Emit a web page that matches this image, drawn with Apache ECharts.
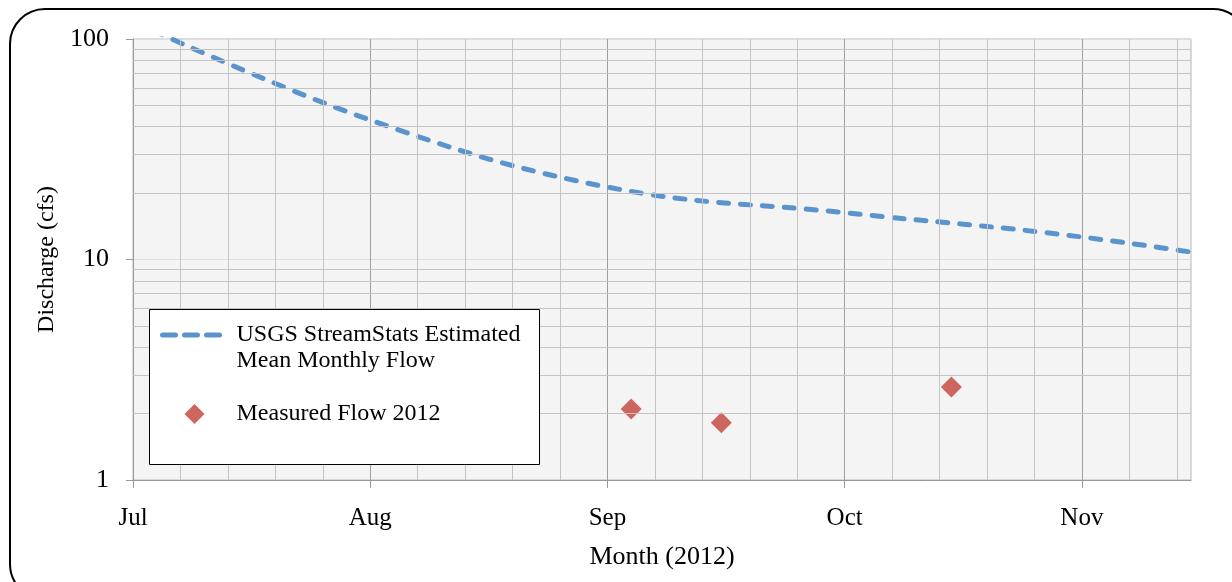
<!DOCTYPE html>
<html>
<head>
<meta charset="utf-8">
<script src="https://cdn.jsdelivr.net/npm/echarts@6/dist/echarts.min.js"></script>
<style>
  html, body { margin: 0; padding: 0; background: #fff; }
  #chart { width: 1232px; height: 582px; }
</style>
</head>
<body>
<div id="chart"></div>
<script>
// month labels, x is counted in months from 1 Jul 2012
const months = ["Jul", "Aug", "Sep", "Oct", "Nov"];
const monthTicks = [0, 1, 2, 3, 4];

// USGS StreamStats estimated mean monthly flow (cfs), Jul .. Dec
const meanFlowMonth = [0, 1, 2, 3, 4, 5];
const meanFlowCfs = [120, 42.9, 21.3, 16.3, 12.65, 8.8];

// measured flow 2012 (cfs)
const measuredMonth = [2.1, 2.48, 3.45];
const measuredCfs = [2.1, 1.82, 2.64];

// minor gridlines
const minorXTicks = [0.2, 0.4, 0.6, 0.8, 1.2, 1.4, 1.6, 1.8, 2.2, 2.4, 2.6, 2.8,
  3.2, 3.4, 3.6, 3.8, 4.2, 4.4];
const minorYTicks = [2, 3, 4, 5, 6, 7, 8, 9, 20, 30, 40, 50, 60, 70, 80, 90];

const FONT = "Liberation Serif";
const MEAN_NAME = "USGS StreamStats Estimated\nMean Monthly Flow";
const MEASURED_NAME = "Measured Flow 2012";

const chart = echarts.init(document.getElementById("chart"));

const meanData = meanFlowMonth.map((m, i) => [m, meanFlowCfs[i]]);
const measuredData = measuredMonth.map((m, i) => [m, measuredCfs[i]]);

const option = {
  animation: false,
  backgroundColor: "#fff",
  grid: {
    left: 133,
    right: 41,
    top: 39,
    bottom: 102,
    show: true,
    backgroundColor: "#f4f4f4",
    borderColor: "#b8b8b8",
    borderWidth: 1,
  },
  xAxis: {
    type: "value",
    min: 0,
    max: 4.46,
    interval: 1,
    name: "Month (2012)",
    nameLocation: "middle",
    nameGap: 64,
    nameTextStyle: { fontFamily: FONT, fontSize: 26, color: "#000" },
    axisLine: { show: true, lineStyle: { color: "#999", width: 1 } },
    axisTick: {
      show: true,
      length: 8,
      customValues: monthTicks,
      lineStyle: { color: "#999" },
    },
    axisLabel: {
      customValues: monthTicks,
      formatter: (v) => months[Math.round(v)] || "",
      fontFamily: FONT,
      fontSize: 25,
      color: "#000",
      margin: 26,
    },
    splitLine: { show: true, lineStyle: { color: "#9e9e9e", width: 1 } },
  },
  yAxis: {
    type: "log",
    min: 1,
    max: 100,
    logBase: 10,
    name: "Discharge (cfs)",
    nameLocation: "middle",
    nameGap: 66,
    nameTextStyle: { fontFamily: FONT, fontSize: 24, color: "#000" },
    axisLine: { show: true, lineStyle: { color: "#999", width: 1 } },
    axisTick: { show: true, length: 7, lineStyle: { color: "#999" } },
    axisLabel: {
      fontFamily: FONT,
      fontSize: 26,
      color: "#000",
      margin: 24,
    },
    splitLine: { show: true, lineStyle: { color: "#dedede", width: 1 } },
  },
  legend: {
    orient: "vertical",
    left: 160,
    top: 296,
    padding: 0,
    itemWidth: 64,
    itemHeight: 20,
    itemGap: 27,
    symbolKeepAspect: true,
    z: 10,
    // leading blank line keeps the icon level with the first text line
    formatter: (name) => (name === MEAN_NAME ? "\n" + name : name),
    textStyle: {
      fontFamily: FONT,
      fontSize: 24,
      lineHeight: 26,
      color: "#000",
      padding: [0, 0, 0, 5],
    },
    data: [
      {
        name: MEAN_NAME,
        itemStyle: { opacity: 0 },
        lineStyle: { width: 5, type: [13, 9], cap: "round", color: "#5b93cc" },
      },
      { name: MEASURED_NAME, icon: "path://M10,0L20,10L10,20L0,10Z" },
    ],
  },
  graphic: [
    {
      type: "rect",
      z: 8,
      shape: { x: 149.5, y: 309.5, width: 390, height: 155 },
      style: { fill: "#fff", stroke: "#000", lineWidth: 1 },
    },
    {
      type: "rect",
      z: 20,
      silent: true,
      shape: { x: 10, y: 9, width: 1238, height: 590, r: 35 },
      style: { fill: "none", stroke: "#000", lineWidth: 2 },
    },
  ],
  series: [
    {
      name: "minor grid",
      type: "line",
      data: [],
      z: 1,
      silent: true,
      markLine: {
        silent: true,
        symbol: "none",
        animation: false,
        label: { show: false },
        emphasis: { disabled: true },
        lineStyle: { color: "#c4c4c4", type: "solid", width: 1 },
        data: minorXTicks
          .map((v) => ({ xAxis: v }))
          .concat(minorYTicks.map((v) => ({ yAxis: v }))),
      },
    },
    {
      name: MEAN_NAME,
      type: "line",
      data: meanData,
      z: 3,
      smooth: 0.4,
      symbol: "none",
      clip: true,
      lineStyle: {
        color: "#5b93cc",
        width: 5,
        type: [10, 12],
        cap: "round",
      },
      itemStyle: { color: "#5b93cc" },
    },
    {
      name: MEASURED_NAME,
      type: "scatter",
      data: measuredData,
      z: 4,
      symbol: "diamond",
      symbolSize: 21,
      itemStyle: { color: "#cd665f", opacity: 1 },
    },
  ],
};

chart.setOption(option);
</script>
</body>
</html>
